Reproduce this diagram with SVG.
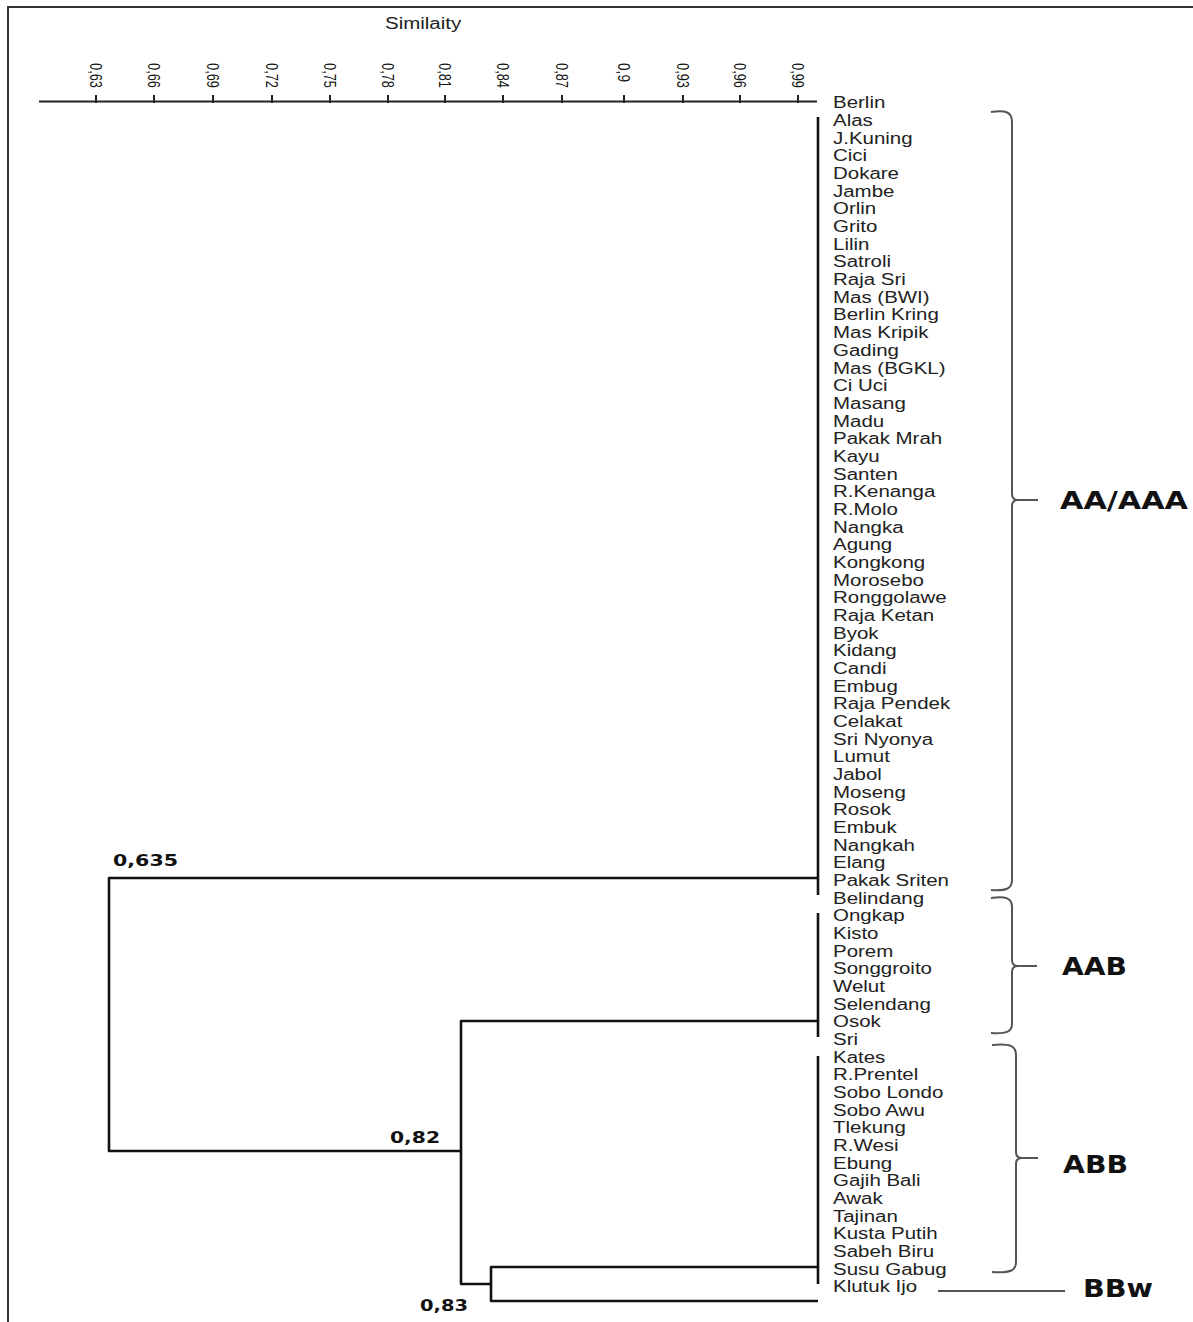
<svg xmlns="http://www.w3.org/2000/svg" width="1193" height="1322" viewBox="0 0 1193 1322">
<style>
.frame{stroke:#333;stroke-width:2;fill:none}
.axis{stroke:#222;stroke-width:2;fill:none}
.tick{font-family:"Liberation Sans",Arial,sans-serif;font-size:16px;fill:#111}
.title{font-family:"Liberation Sans",Arial,sans-serif;font-size:16px;fill:#222}
.leaf{font-family:"Liberation Sans",Arial,sans-serif;font-size:16px;fill:#222}
.edge{stroke:#111;stroke-width:2.6;fill:none;stroke-linejoin:round}
.brace{stroke:#555;stroke-width:2;fill:none}
.val{font-family:"DejaVu Sans",Verdana,sans-serif;font-weight:bold;font-size:15px;fill:#111}
.grp{font-family:"DejaVu Sans",Verdana,sans-serif;font-weight:bold;font-size:25px;fill:#111}
</style>
<rect width="1193" height="1322" fill="#fff"/>
<path class="frame" d="M8,1322 V7 H1193"/>

<g id="axis">
<text class="title" transform="translate(385,29) scale(1.28,1)">Similaity</text>
<path class="axis" d="M39,101.5 H817"/>
<path class="axis" d="M96,95 V103 M154,95 V103 M213,95 V103 M272,95 V103 M330,95 V103 M388,95 V103 M445,95 V103 M503,95 V103 M562,95 V103 M624,95 V103 M683,95 V103 M740,95 V103 M798,95 V103"/>
<text class="tick" transform="translate(90,63) rotate(90)" textLength="25" lengthAdjust="spacingAndGlyphs">0,63</text>
<text class="tick" transform="translate(148,63) rotate(90)" textLength="25" lengthAdjust="spacingAndGlyphs">0,66</text>
<text class="tick" transform="translate(207,63) rotate(90)" textLength="25" lengthAdjust="spacingAndGlyphs">0,69</text>
<text class="tick" transform="translate(266,63) rotate(90)" textLength="25" lengthAdjust="spacingAndGlyphs">0,72</text>
<text class="tick" transform="translate(324,63) rotate(90)" textLength="25" lengthAdjust="spacingAndGlyphs">0,75</text>
<text class="tick" transform="translate(382,63) rotate(90)" textLength="25" lengthAdjust="spacingAndGlyphs">0,78</text>
<text class="tick" transform="translate(439,63) rotate(90)" textLength="25" lengthAdjust="spacingAndGlyphs">0,81</text>
<text class="tick" transform="translate(497,63) rotate(90)" textLength="25" lengthAdjust="spacingAndGlyphs">0,84</text>
<text class="tick" transform="translate(556,63) rotate(90)" textLength="25" lengthAdjust="spacingAndGlyphs">0,87</text>
<text class="tick" transform="translate(618,63) rotate(90)" textLength="19" lengthAdjust="spacingAndGlyphs">0,9</text>
<text class="tick" transform="translate(677,63) rotate(90)" textLength="25" lengthAdjust="spacingAndGlyphs">0,93</text>
<text class="tick" transform="translate(734,63) rotate(90)" textLength="25" lengthAdjust="spacingAndGlyphs">0,96</text>
<text class="tick" transform="translate(792,63) rotate(90)" textLength="25" lengthAdjust="spacingAndGlyphs">0,99</text>
</g>

<g id="connectors">
<path class="edge" d="M818,117 V895"/>
<path class="edge" d="M818,913 V1037"/>
<path class="edge" d="M818,1056 V1284"/>
<path class="edge" d="M818,878 H109 V1151 H461"/>
<path class="edge" d="M818,1021 H461 V1284 H491"/>
<path class="edge" d="M818,1267 H491 V1301 H818"/>
</g>

<g id="node-values">
<text class="val" x="113" y="866" textLength="65" lengthAdjust="spacingAndGlyphs">0,635</text>
<text class="val" x="390" y="1143" textLength="50" lengthAdjust="spacingAndGlyphs">0,82</text>
<text class="val" x="420" y="1311" textLength="48" lengthAdjust="spacingAndGlyphs">0,83</text>
</g>

<g id="leaves" transform="translate(833,0) scale(1.28,1)">
<text class="leaf" x="0" y="108.5">Berlin</text>
<text class="leaf" x="0" y="126.2">Alas</text>
<text class="leaf" x="0" y="143.8">J.Kuning</text>
<text class="leaf" x="0" y="161.5">Cici</text>
<text class="leaf" x="0" y="179.2">Dokare</text>
<text class="leaf" x="0" y="196.9">Jambe</text>
<text class="leaf" x="0" y="214.5">Orlin</text>
<text class="leaf" x="0" y="232.2">Grito</text>
<text class="leaf" x="0" y="249.9">Lilin</text>
<text class="leaf" x="0" y="267.5">Satroli</text>
<text class="leaf" x="0" y="285.2">Raja Sri</text>
<text class="leaf" x="0" y="302.9">Mas (BWI)</text>
<text class="leaf" x="0" y="320.5">Berlin Kring</text>
<text class="leaf" x="0" y="338.2">Mas Kripik</text>
<text class="leaf" x="0" y="355.9">Gading</text>
<text class="leaf" x="0" y="373.6">Mas (BGKL)</text>
<text class="leaf" x="0" y="391.2">Ci Uci</text>
<text class="leaf" x="0" y="408.9">Masang</text>
<text class="leaf" x="0" y="426.6">Madu</text>
<text class="leaf" x="0" y="444.2">Pakak Mrah</text>
<text class="leaf" x="0" y="461.9">Kayu</text>
<text class="leaf" x="0" y="479.6">Santen</text>
<text class="leaf" x="0" y="497.2">R.Kenanga</text>
<text class="leaf" x="0" y="514.9">R.Molo</text>
<text class="leaf" x="0" y="532.6">Nangka</text>
<text class="leaf" x="0" y="550.3">Agung</text>
<text class="leaf" x="0" y="567.9">Kongkong</text>
<text class="leaf" x="0" y="585.6">Morosebo</text>
<text class="leaf" x="0" y="603.3">Ronggolawe</text>
<text class="leaf" x="0" y="620.9">Raja Ketan</text>
<text class="leaf" x="0" y="638.6">Byok</text>
<text class="leaf" x="0" y="656.3">Kidang</text>
<text class="leaf" x="0" y="673.9">Candi</text>
<text class="leaf" x="0" y="691.6">Embug</text>
<text class="leaf" x="0" y="709.3">Raja Pendek</text>
<text class="leaf" x="0" y="727.0">Celakat</text>
<text class="leaf" x="0" y="744.6">Sri Nyonya</text>
<text class="leaf" x="0" y="762.3">Lumut</text>
<text class="leaf" x="0" y="780.0">Jabol</text>
<text class="leaf" x="0" y="797.6">Moseng</text>
<text class="leaf" x="0" y="815.3">Rosok</text>
<text class="leaf" x="0" y="833.0">Embuk</text>
<text class="leaf" x="0" y="850.6">Nangkah</text>
<text class="leaf" x="0" y="868.3">Elang</text>
<text class="leaf" x="0" y="886.0">Pakak Sriten</text>
<text class="leaf" x="0" y="903.7">Belindang</text>
<text class="leaf" x="0" y="921.3">Ongkap</text>
<text class="leaf" x="0" y="939.0">Kisto</text>
<text class="leaf" x="0" y="956.7">Porem</text>
<text class="leaf" x="0" y="974.3">Songgroito</text>
<text class="leaf" x="0" y="992.0">Welut</text>
<text class="leaf" x="0" y="1009.7">Selendang</text>
<text class="leaf" x="0" y="1027.3">Osok</text>
<text class="leaf" x="0" y="1045.0">Sri</text>
<text class="leaf" x="0" y="1062.7">Kates</text>
<text class="leaf" x="0" y="1080.4">R.Prentel</text>
<text class="leaf" x="0" y="1098.0">Sobo Londo</text>
<text class="leaf" x="0" y="1115.7">Sobo Awu</text>
<text class="leaf" x="0" y="1133.4">Tlekung</text>
<text class="leaf" x="0" y="1151.0">R.Wesi</text>
<text class="leaf" x="0" y="1168.7">Ebung</text>
<text class="leaf" x="0" y="1186.4">Gajih Bali</text>
<text class="leaf" x="0" y="1204.0">Awak</text>
<text class="leaf" x="0" y="1221.7">Tajinan</text>
<text class="leaf" x="0" y="1239.4">Kusta Putih</text>
<text class="leaf" x="0" y="1257.1">Sabeh Biru</text>
<text class="leaf" x="0" y="1274.7">Susu Gabug</text>
<text class="leaf" x="0" y="1292.4">Klutuk Ijo</text>
</g>

<g id="group-AA-AAA">
<path class="brace" d="M991,112 C1006,110 1012,112 1012,122 V494 Q1012,500 1018,500 Q1012,500 1012,506 V880 C1012,889 1006,891 991,890 M1018,500 H1038"/>
<text class="grp" x="1060" y="509" textLength="128" lengthAdjust="spacingAndGlyphs">AA/AAA</text>
</g>
<g id="group-AAB">
<path class="brace" d="M991,898 C1006,896 1012,898 1012,907 V960 Q1012,966 1018,966 Q1012,966 1012,972 V1024 C1012,1032 1006,1034 991,1033 M1018,966 H1037"/>
<text class="grp" x="1062" y="975" textLength="65" lengthAdjust="spacingAndGlyphs">AAB</text>
</g>
<g id="group-ABB">
<path class="brace" d="M992,1045 C1010,1043 1016,1046 1016,1055 V1152 Q1016,1158 1022,1158 Q1016,1158 1016,1164 V1262 C1016,1271 1010,1273 992,1272 M1022,1158 H1038"/>
<text class="grp" x="1063" y="1173" textLength="65" lengthAdjust="spacingAndGlyphs">ABB</text>
</g>
<g id="group-BBw">
<path class="brace" d="M938,1291 H1065"/>
<text class="grp" x="1083" y="1297" textLength="70" lengthAdjust="spacingAndGlyphs">BBw</text>
</g>
</svg>
